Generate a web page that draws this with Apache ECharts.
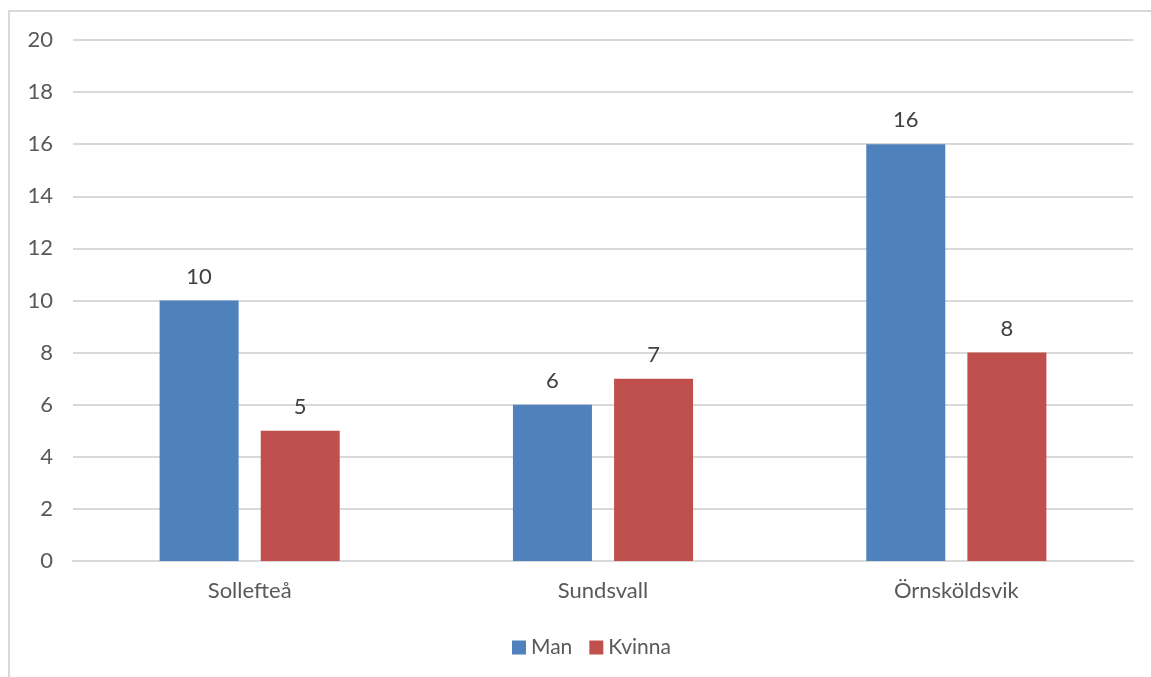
<!DOCTYPE html>
<html><head><meta charset="utf-8">
<script src="https://cdn.jsdelivr.net/npm/echarts@6/dist/echarts.min.js"></script>
<style>html,body{margin:0;padding:0;background:#fff}#c{width:1151px;height:677px}</style>
</head><body><div id="c"></div>
<script>
const categories = ['Sollefteå', 'Sundsvall', 'Örnsköldsvik'];
const seriesNames = ['Man', 'Kvinna'];
const manValues = [10, 6, 16];
const kvinnaValues = [5, 7, 8];
const colors = ['#4f81bd', '#c0504d'];
const font = 'Lato, "Open Sans", sans-serif';
const chart = echarts.init(document.getElementById('c'), null, {renderer: 'canvas'});
chart.setOption({
  animation: false,
  backgroundColor: '#fff',
  graphic: [{type: 'rect', shape: {x: 9, y: 11, width: 1200, height: 700}, style: {fill: 'none', stroke: '#d9d9d9', lineWidth: 2}, z: 100}],
  grid: {left: 73, right: 18, top: 40, bottom: 116, containLabel: false},
  legend: {
    data: seriesNames, left: 507, top: 632, itemWidth: 14, itemHeight: 14, itemGap: 17,
    icon: 'rect', textStyle: {fontSize: 21, color: '#595959', fontFamily: font}
  },
  xAxis: {
    type: 'category', data: categories,
    axisLine: {lineStyle: {color: '#d9d9d9', width: 2}}, axisTick: {show: false},
    axisLabel: {fontSize: 22, color: '#595959', fontFamily: font, margin: 19}
  },
  yAxis: {
    type: 'value', min: 0, max: 20, interval: 2,
    axisLine: {show: false}, axisTick: {show: false},
    splitLine: {lineStyle: {color: '#d9d9d9', width: 2}},
    axisLabel: {fontSize: 22, color: '#595959', fontFamily: font, margin: 20}
  },
  series: [
    {name: seriesNames[0], type: 'bar', data: manValues, itemStyle: {color: colors[0]}, barWidth: 79, barGap: '28%',
     label: {show: true, position: 'top', distance: 13, fontSize: 22, color: '#404040', fontFamily: font}},
    {name: seriesNames[1], type: 'bar', data: kvinnaValues, itemStyle: {color: colors[1]}, barWidth: 79,
     label: {show: true, position: 'top', distance: 13, fontSize: 22, color: '#404040', fontFamily: font}}
  ]
});
</script></body></html>
